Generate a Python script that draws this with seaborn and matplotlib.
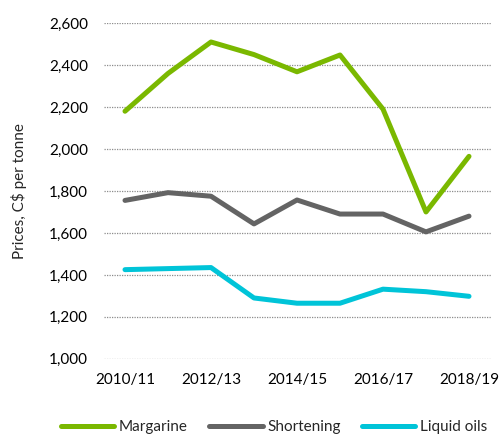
import pandas as pd
import matplotlib.pyplot as plt
import seaborn as sns
from matplotlib.ticker import FuncFormatter

years = ["2010/11", "2011/12", "2012/13", "2013/14", "2014/15",
         "2015/16", "2016/17", "2017/18", "2018/19"]
margarine = [2180, 2360, 2510, 2450, 2368, 2448, 2190, 1700, 1965]
shortening = [1755, 1792, 1775, 1643, 1757, 1690, 1690, 1605, 1680]
liquid_oils = [1425, 1430, 1435, 1290, 1265, 1265, 1332, 1320, 1298]

series_names = ["Margarine", "Shortening", "Liquid oils"]
palette = ["#7AB800", "#646464", "#00C4D8"]


def build_frame():
    df = pd.DataFrame({
        "year": years,
        "Margarine": margarine,
        "Shortening": shortening,
        "Liquid oils": liquid_oils,
    })
    df["idx"] = range(len(years))
    return df.melt(id_vars=["year", "idx"], var_name="product", value_name="price")


def main():
    sns.set_style("white")
    plt.rcParams["font.family"] = ["Lato", "DejaVu Sans"]

    df = build_frame()

    fig = plt.figure(figsize=(5, 4.36), dpi=100)
    ax = fig.add_axes([0.207, 0.177, 0.774, 0.77])

    sns.lineplot(
        data=df, x="idx", y="price", hue="product",
        hue_order=series_names, palette=palette,
        linewidth=3.6, ax=ax, legend=True,
    )

    ax.set_xlim(-0.5, len(years) - 0.5)
    ax.set_ylim(1000, 2600)
    ax.set_yticks(range(1000, 2601, 200))
    ax.yaxis.set_major_formatter(FuncFormatter(lambda v, p: f"{int(v):,}"))
    ax.set_xticks(range(0, len(years), 2))
    ax.set_xticklabels(years[::2])
    ax.tick_params(axis="both", length=0, labelsize=11, colors="black")
    ax.tick_params(axis="x", pad=10)
    ax.tick_params(axis="y", pad=11)

    ax.grid(axis="y", linestyle=(0, (1, 1)), color="#8c8c8c", linewidth=0.9)
    ax.set_axisbelow(True)
    for s in ax.spines.values():
        s.set_visible(False)

    ax.set_xlabel("")
    ax.set_ylabel("Prices, C$ per tonne", fontsize=11, labelpad=16)

    ax.legend(
        loc="center", bbox_to_anchor=(0.548, 0.02), bbox_transform=fig.transFigure,
        ncol=3, frameon=False, fontsize=11, handlelength=3.5,
        columnspacing=1.4, handletextpad=0.3,
    )

    fig.savefig("out.png", dpi=100)


if __name__ == "__main__":
    main()
